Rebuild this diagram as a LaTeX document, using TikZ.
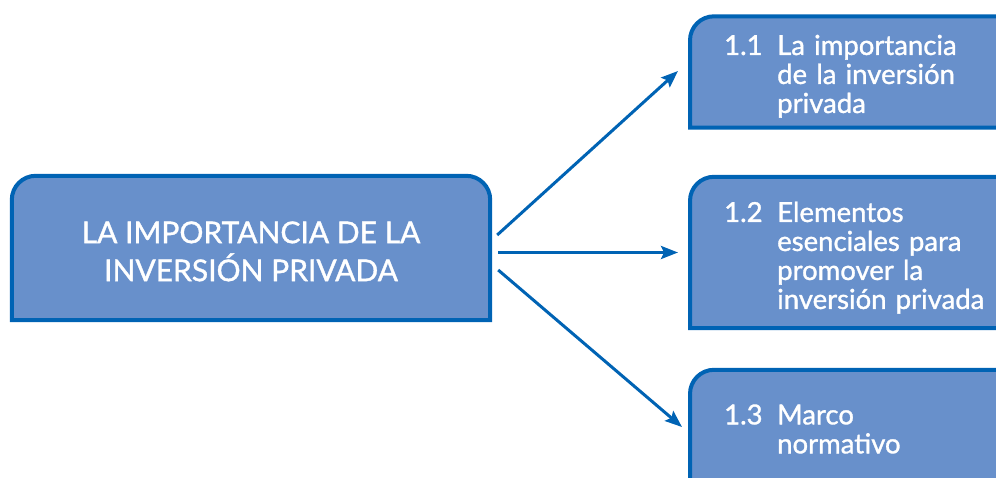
\documentclass[tikz,border=0pt]{standalone}
\usepackage{fontspec}
\setmainfont{Lato}[FakeBold=1.2]
\usetikzlibrary{arrows.meta,backgrounds}
\definecolor{boxfill}{HTML}{6890CB}
\definecolor{boxline}{HTML}{0063B4}
% outline with round top corners only
\newcommand{\tabshape}[1]{\draw[boxline, line width=4pt, fill=boxfill] (#1.south west) [rounded corners=24pt] -- (#1.north west) -- (#1.north east) [sharp corners] -- (#1.south east) -- cycle;}
\newcommand{\secitem}[3][0pt]{\rule{0pt}{#1}\makebox[53pt][l]{#2}\parbox[t]{230pt}{\raggedright #3}}
\begin{document}
\begin{tikzpicture}[x=1pt, y=-1pt, every node/.style={text=white, inner sep=0pt},
    subbox/.style={anchor=west, minimum width=340pt, text width=272pt, inner xsep=34pt, align=left, font=\fontsize{27.5}{29}\selectfont},
    link/.style={draw=boxline, line width=3pt, -{Stealth[length=17pt,width=13pt,inset=3pt]}}]
\useasboundingbox (0,0) rectangle (996,478);
\clip (0,0) rectangle (996,478);
% main topic
\node (main) at (251,248) [minimum width=478pt, minimum height=144pt, align=center, font=\fontsize{30}{38}\selectfont] {\rule{0pt}{28.5pt}LA IMPORTANCIA DE LA\\INVERSIÓN PRIVADA};
% subtopics
\node (sub1) [subbox, minimum height=111pt] at (690,72) {\secitem[28.6pt]{1.1}{La importancia\\de la inversión\\privada}};
\node (sub2) [subbox, minimum height=151pt] at (690,252.5) {\secitem[30.6pt]{1.2}{Elementos\\esenciales para\\promover la\\inversión privada}};
\node (sub3) [subbox, minimum height=118pt] at (690,429) {\secitem{1.3}{Marco\\normativo}};
\begin{scope}[on background layer]
\tabshape{main}
\tabshape{sub1}
\tabshape{sub2}
\tabshape{sub3}
\end{scope}
% arrows
\draw[link] ([shift={(7,-13)}]main.east) -- ([shift={(-12,-1)}]sub1.west);
\draw[link] ([shift={(8,4.5)}]main.east) -- ([shift={(-12,0)}]sub2.west);
\draw[link] ([shift={(8,22)}]main.east) -- ([shift={(-8,-2)}]sub3.west);
\end{tikzpicture}
\end{document}
